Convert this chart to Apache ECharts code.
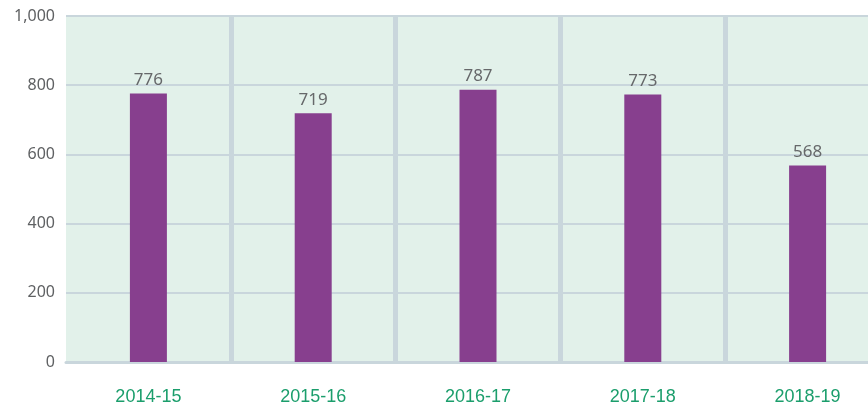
<!DOCTYPE html>
<html>
<head>
<meta charset="utf-8">
<script src="https://cdn.jsdelivr.net/npm/echarts@6/dist/echarts.min.js"></script>
<style>
  html, body { margin: 0; padding: 0; background: #ffffff; overflow: hidden; }
  /* the plot runs past the right edge of the window */
  #chart { width: 890px; height: 406px; }
</style>
</head>
<body>
<div id="chart"></div>
<script>
// Annual totals by financial year
const years = ['2014-15', '2015-16', '2016-17', '2017-18', '2018-19'];
const totals = [776, 719, 787, 773, 568];
const yTicks = [0, 200, 400, 600, 800, 1000];

const lineColor = '#c9d6dc';
const fontFamily = '"Noto Sans", "Open Sans", sans-serif';

function withCommas(v) {
  return String(v).replace(/\B(?=(\d{3})+(?!\d))/g, ',');
}

const chart = echarts.init(document.getElementById('chart'), null, { renderer: 'canvas' });
chart.setOption({
  animation: false,
  grid: {
    left: 66, top: 16, bottom: 44, right: 0,
    show: true, backgroundColor: '#e2f1ea', borderWidth: 0
  },
  xAxis: {
    type: 'category',
    data: years,
    axisLine: { show: true, lineStyle: { color: lineColor, width: 3 } },
    axisTick: { show: false },
    axisLabel: {
      color: '#1b9e6c', fontSize: 18, fontFamily: '"Liberation Sans", Arial, sans-serif', margin: 26
    },
    splitLine: {
      show: true, showMinLine: false, showMaxLine: false,
      lineStyle: { color: lineColor, width: 5 }
    }
  },
  yAxis: {
    type: 'value',
    min: yTicks[0],
    max: yTicks[yTicks.length - 1],
    interval: yTicks[1] - yTicks[0],
    axisLine: { show: false },
    axisTick: { show: false },
    axisLabel: {
      color: '#5f6163', fontSize: 16, fontFamily: fontFamily, margin: 11,
      formatter: withCommas
    },
    splitLine: { show: true, lineStyle: { color: lineColor, width: 2 } }
  },
  series: [{
    type: 'bar',
    data: totals,
    barWidth: 37,
    itemStyle: { color: '#873f8e' },
    label: {
      show: true, position: 'top', distance: 5,
      color: '#66686a', fontSize: 17, fontFamily: fontFamily
    }
  }]
});
</script>
</body>
</html>
